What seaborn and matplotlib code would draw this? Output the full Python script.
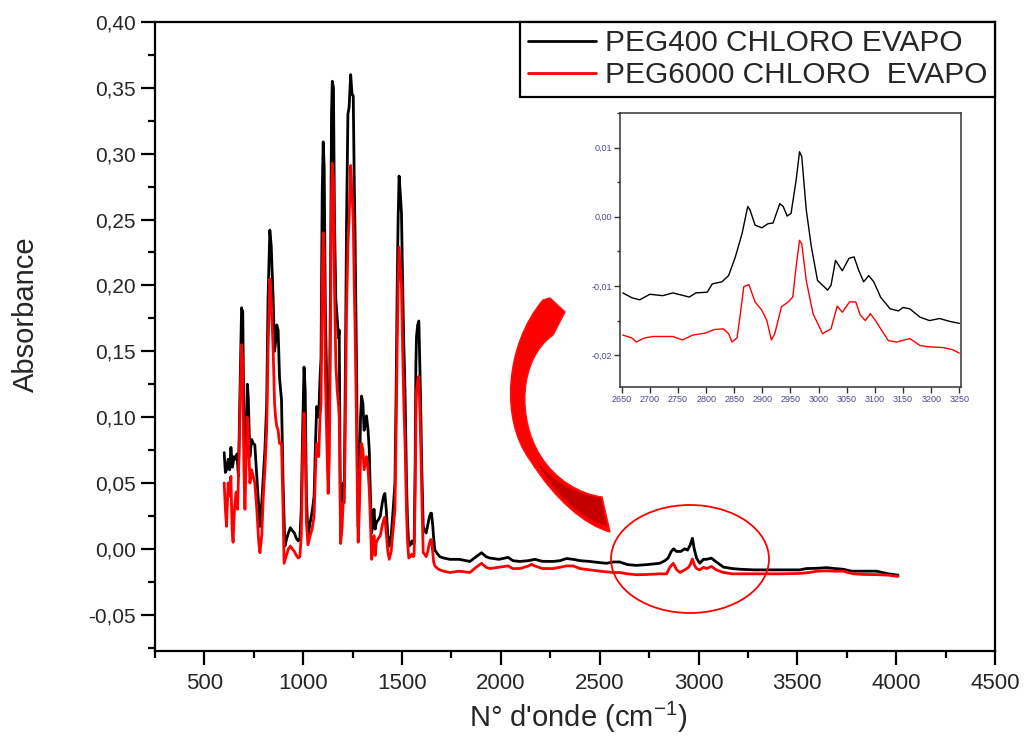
import pandas as pd
import matplotlib
matplotlib.use('Agg')
import matplotlib.pyplot as plt
import seaborn as sns
from matplotlib.ticker import MultipleLocator, FuncFormatter
from matplotlib.path import Path
from matplotlib.patches import PathPatch, Ellipse

# spectra (wavenumber in cm-1, absorbance)
wn_peg400 = [600, 606, 612, 620, 628, 634, 642, 650, 658, 665, 672, 680, 688, 694, 700, 705, 712, 717, 722, 730,
             739, 747, 755, 765, 775, 781, 790, 798, 806, 815, 822, 831, 838, 848, 855, 860, 866, 873, 880, 890,
             898, 907, 915, 925, 935, 944, 955, 965, 975, 983, 990, 997, 1004, 1010, 1016, 1024, 1035, 1045, 1055,
             1062, 1068, 1078, 1085, 1090, 1096, 1101, 1106, 1112, 1118, 1126, 1132, 1138, 1143, 1147, 1153, 1158,
             1165, 1172, 1178, 1182, 1186, 1189, 1196, 1202, 1208, 1214, 1219, 1226, 1232, 1240, 1247, 1253, 1258,
             1262, 1266, 1270, 1274, 1278, 1284, 1290, 1295, 1302, 1308, 1314, 1320, 1328, 1334, 1340, 1346, 1352,
             1358, 1364, 1370, 1380, 1390, 1400, 1407, 1413, 1420, 1428, 1435, 1445, 1455, 1464, 1470, 1475, 1480,
             1485, 1491, 1497, 1503, 1509, 1515, 1523, 1528, 1534, 1542, 1550, 1556, 1561, 1566, 1570, 1573, 1579,
             1585, 1593, 1600, 1607, 1614, 1622, 1630, 1638, 1645, 1649, 1655, 1660, 1666, 1680, 1691, 1710, 1742,
             1790, 1843, 1875, 1902, 1925, 1944, 1990, 2037, 2060, 2096, 2140, 2172, 2210, 2264, 2300, 2332, 2366,
             2400, 2450, 2500, 2534, 2570, 2601, 2640, 2686, 2740, 2804, 2830, 2846, 2862, 2874, 2888, 2910, 2930,
             2945, 2958, 2969, 2978, 2990, 3006, 3025, 3040, 3065, 3090, 3126, 3170, 3208, 3280, 3343, 3420, 3512,
             3546, 3600, 3647, 3690, 3731, 3774, 3840, 3900, 3960, 4009]
abs_peg400 = [0.073, 0.058, 0.060, 0.068, 0.060, 0.077, 0.062, 0.070, 0.068, 0.072, 0.055, 0.120, 0.183, 0.180,
              0.090, 0.050, 0.090, 0.125, 0.115, 0.070, 0.083, 0.080, 0.079, 0.055, 0.030, 0.017, 0.035, 0.055,
              0.075, 0.110, 0.190, 0.242, 0.230, 0.189, 0.150, 0.157, 0.170, 0.166, 0.130, 0.113, 0.050, 0.002,
              0.007, 0.012, 0.016, 0.014, 0.012, 0.008, 0.006, 0.008, 0.030, 0.090, 0.138, 0.120, 0.040, 0.009,
              0.020, 0.028, 0.040, 0.080, 0.108, 0.100, 0.130, 0.145, 0.270, 0.309, 0.290, 0.180, 0.130, 0.068,
              0.100, 0.200, 0.330, 0.355, 0.350, 0.250, 0.189, 0.175, 0.160, 0.166, 0.080, 0.007, 0.030, 0.050,
              0.048, 0.150, 0.245, 0.330, 0.335, 0.360, 0.345, 0.344, 0.280, 0.240, 0.190, 0.134, 0.060, 0.017,
              0.050, 0.100, 0.116, 0.110, 0.090, 0.095, 0.101, 0.090, 0.075, 0.040, 0.012, 0.018, 0.030, 0.015,
              0.020, 0.022, 0.025, 0.035, 0.040, 0.042, 0.030, 0.010, 0.002, 0.010, 0.030, 0.050, 0.120, 0.194,
              0.250, 0.283, 0.270, 0.255, 0.200, 0.154, 0.120, 0.047, 0.020, 0.002, 0.003, 0.006, 0.004, 0.004,
              0.060, 0.140, 0.161, 0.170, 0.173, 0.118, 0.060, 0.017, 0.014, 0.012, 0.018, 0.024, 0.027, 0.027,
              0.018, 0.008, -0.001, -0.004, -0.006, -0.007, -0.008, -0.008, -0.0096, -0.006, -0.003, -0.006,
              -0.007, -0.008, -0.0065, -0.009, -0.0096, -0.009, -0.008, -0.0095, -0.0096, -0.009, -0.0074, -0.008,
              -0.009, -0.0096, -0.0105, -0.011, -0.010, -0.010, -0.012, -0.0126, -0.012, -0.011, -0.009, -0.007,
              -0.002, 0.000, -0.002, -0.002, 0.000, -0.001, 0.003, 0.008, 0.000, -0.007, -0.011, -0.008, -0.008,
              -0.0071, -0.010, -0.0139, -0.015, -0.0155, -0.016, -0.016, -0.016, -0.016, -0.015, -0.0148, -0.0143,
              -0.015, -0.0155, -0.017, -0.017, -0.017, -0.019, -0.020]

wn_peg6000 = [600, 606, 612, 620, 628, 634, 640, 645, 652, 660, 668, 675, 682, 688, 694, 700, 705, 712, 717, 722,
              730, 739, 747, 755, 765, 775, 781, 790, 798, 806, 815, 822, 831, 838, 848, 855, 860, 866, 873, 880,
              890, 898, 903, 915, 925, 935, 944, 955, 965, 975, 983, 990, 997, 1004, 1010, 1016, 1024, 1035, 1045,
              1055, 1062, 1068, 1078, 1085, 1090, 1096, 1101, 1106, 1112, 1118, 1126, 1132, 1138, 1143, 1147, 1153,
              1158, 1165, 1172, 1178, 1182, 1186, 1189, 1196, 1202, 1208, 1214, 1219, 1226, 1232, 1240, 1247, 1253,
              1258, 1262, 1266, 1270, 1274, 1278, 1284, 1290, 1295, 1302, 1308, 1314, 1320, 1328, 1334, 1340, 1346,
              1352, 1358, 1364, 1370, 1380, 1390, 1400, 1407, 1413, 1420, 1428, 1435, 1445, 1455, 1464, 1470, 1475,
              1480, 1485, 1491, 1497, 1503, 1509, 1515, 1523, 1528, 1534, 1542, 1550, 1556, 1561, 1566, 1570, 1573,
              1579, 1585, 1593, 1600, 1607, 1614, 1622, 1630, 1638, 1645, 1649, 1655, 1660, 1666, 1680, 1691, 1710,
              1742, 1790, 1843, 1875, 1902, 1925, 1944, 1990, 2037, 2060, 2096, 2140, 2155, 2172, 2210, 2264, 2300,
              2332, 2366, 2400, 2450, 2500, 2534, 2570, 2601, 2640, 2686, 2740, 2804, 2838, 2855, 2872, 2890, 2906,
              2930, 2950, 2958, 2969, 2978, 2990, 3006, 3025, 3040, 3065, 3090, 3126, 3170, 3208, 3280, 3343, 3420,
              3512, 3560, 3600, 3647, 3690, 3731, 3783, 3840, 3900, 3960, 4009]
abs_peg6000 = [0.050, 0.030, 0.017, 0.050, 0.040, 0.055, 0.015, 0.005, 0.030, 0.043, 0.030, 0.070, 0.120, 0.155,
               0.140, 0.060, 0.030, 0.070, 0.100, 0.090, 0.050, 0.060, 0.055, 0.050, 0.030, 0.005, -0.003, 0.010,
               0.040, 0.060, 0.090, 0.150, 0.205, 0.190, 0.150, 0.110, 0.100, 0.093, 0.090, 0.080, 0.080, 0.030,
               -0.011, -0.005, 0.000, 0.002, 0.000, -0.002, -0.005, -0.007, -0.006, 0.010, 0.070, 0.103, 0.080,
               0.020, 0.003, 0.010, 0.015, 0.025, 0.060, 0.080, 0.070, 0.100, 0.110, 0.200, 0.240, 0.225, 0.130,
               0.090, 0.042, 0.070, 0.170, 0.270, 0.293, 0.280, 0.200, 0.140, 0.120, 0.110, 0.100, 0.050, 0.004,
               0.015, 0.035, 0.035, 0.110, 0.180, 0.230, 0.250, 0.291, 0.270, 0.250, 0.200, 0.170, 0.130, 0.090,
               0.040, 0.005, 0.030, 0.070, 0.080, 0.075, 0.060, 0.065, 0.070, 0.060, 0.045, 0.020, -0.008, 0.000,
               0.010, -0.005, 0.005, 0.008, 0.010, 0.018, 0.022, 0.024, 0.012, -0.002, -0.008, -0.002, 0.015, 0.030,
               0.090, 0.150, 0.200, 0.229, 0.215, 0.200, 0.150, 0.110, 0.080, 0.025, 0.005, -0.007, -0.006, -0.004,
               -0.006, -0.005, 0.040, 0.100, 0.120, 0.128, 0.131, 0.090, 0.040, -0.003, -0.004, -0.006, -0.002,
               0.004, 0.007, 0.007, -0.002, -0.010, -0.013, -0.015, -0.016, -0.017, -0.018, -0.017, -0.018, -0.014,
               -0.011, -0.014, -0.015, -0.014, -0.013, -0.015, -0.015, -0.013, -0.0118, -0.013, -0.015, -0.015,
               -0.014, -0.013, -0.013, -0.015, -0.016, -0.017, -0.0175, -0.018, -0.018, -0.019, -0.0197, -0.0195,
               -0.019, -0.019, -0.014, -0.011, -0.016, -0.018, -0.016, -0.014, -0.012, -0.0077, -0.012, -0.015,
               -0.016, -0.014, -0.015, -0.0134, -0.016, -0.018, -0.019, -0.019, -0.019, -0.019, -0.019, -0.0187,
               -0.018, -0.017, -0.0167, -0.017, -0.017, -0.019, -0.0195, -0.0196, -0.020, -0.021]

# zoomed spectra of the C-H stretching region (inset)
wn_zoom_400 = [2652, 2668, 2682, 2700, 2723, 2741, 2770, 2782, 2802, 2811, 2828, 2840, 2852, 2864, 2874, 2878,
               2887, 2899, 2910, 2919, 2931, 2937, 2944, 2951, 2960, 2966, 2970, 2978, 2987, 2998, 3016, 3022,
               3030, 3042, 3054, 3063, 3071, 3080, 3089, 3098, 3110, 3127, 3142, 3150, 3162, 3180, 3197, 3215,
               3232, 3250]
abs_zoom_400 = [-0.0110, -0.0117, -0.0120, -0.0112, -0.0114, -0.0110, -0.0116, -0.0110, -0.0109, -0.0097,
                -0.0094, -0.0085, -0.0058, -0.0024, 0.0015, 0.0010, -0.0012, -0.0016, -0.0010, -0.0009, 0.0019,
                0.0015, 0.0001, 0.0005, 0.0053, 0.0094, 0.0087, 0.0010, -0.0043, -0.0092, -0.0106, -0.0099,
                -0.0063, -0.0078, -0.0060, -0.0058, -0.0077, -0.0094, -0.0085, -0.0094, -0.0116, -0.0133, -0.0136,
                -0.0131, -0.0133, -0.0145, -0.0150, -0.0147, -0.0151, -0.0154]
wn_zoom_6000 = [2652, 2668, 2676, 2691, 2706, 2741, 2758, 2776, 2799, 2814, 2831, 2840, 2846, 2855, 2861, 2867,
                2876, 2887, 2899, 2908, 2916, 2922, 2934, 2946, 2954, 2960, 2966, 2970, 2978, 2990, 3007, 3022,
                3033, 3042, 3055, 3066, 3074, 3083, 3092, 3101, 3112, 3124, 3139, 3162, 3180, 3197, 3221, 3238,
                3250]
abs_zoom_6000 = [-0.0171, -0.0175, -0.0181, -0.0175, -0.0173, -0.0173, -0.0178, -0.0171, -0.0168, -0.0163,
                 -0.0162, -0.0169, -0.0181, -0.0175, -0.0140, -0.0101, -0.0098, -0.0123, -0.0135, -0.0150, -0.0178,
                 -0.0169, -0.0130, -0.0123, -0.0116, -0.0072, -0.0034, -0.0039, -0.0092, -0.0140, -0.0169, -0.0162,
                 -0.0129, -0.0138, -0.0123, -0.0123, -0.0142, -0.0150, -0.0140, -0.0150, -0.0164, -0.0179, -0.0181,
                 -0.0176, -0.0186, -0.0188, -0.0189, -0.0192, -0.0197]

labels = ['PEG400 CHLORO EVAPO', 'PEG6000 CHLORO  EVAPO']

df = pd.concat([
    pd.DataFrame({'wn': wn_peg400, 'A': abs_peg400, 'sample': labels[0]}),
    pd.DataFrame({'wn': wn_peg6000, 'A': abs_peg6000, 'sample': labels[1]}),
])
df_zoom = pd.concat([
    pd.DataFrame({'wn': wn_zoom_400, 'A': abs_zoom_400, 'sample': labels[0]}),
    pd.DataFrame({'wn': wn_zoom_6000, 'A': abs_zoom_6000, 'sample': labels[1]}),
])
colors = {labels[0]: 'black', labels[1]: 'red'}

sns.set_style('ticks')
plt.rcParams['font.family'] = ['Liberation Sans', 'DejaVu Sans']
plt.rcParams['mathtext.fontset'] = 'custom'
plt.rcParams['mathtext.rm'] = 'Liberation Sans'

comma = FuncFormatter(lambda v, p: ('%.2f' % v).replace('.', ','))

fig = plt.figure(figsize=(10.28, 7.49), dpi=100)
ax = fig.add_axes([155/1028, 1-651/749, 840/1028, 629/749])
sns.lineplot(data=df, x='wn', y='A', hue='sample', palette=colors, estimator=None, sort=False,
             linewidth=2, ax=ax)
ax.set_xlim(250, 4500)
ax.set_ylim(-0.0776, 0.40)
ax.xaxis.set_major_locator(MultipleLocator(500))
ax.xaxis.set_minor_locator(MultipleLocator(250))
ax.yaxis.set_major_locator(MultipleLocator(0.05))
ax.yaxis.set_minor_locator(MultipleLocator(0.025))
ax.yaxis.set_major_formatter(comma)
ax.tick_params(which='major', direction='out', length=10, width=1.6, color='black')
ax.tick_params(which='minor', direction='out', length=5, width=1.6, color='black')
ax.tick_params(axis='y', labelsize=15, pad=4)
ax.tick_params(axis='x', labelsize=16, pad=6)
for s in ax.spines.values():
    s.set_visible(True)
    s.set_linewidth(1.6)
    s.set_color('black')
ax.set_xlabel("N° d'onde (cm$\\mathregular{^{-1}}$)", fontsize=21)
ax.set_ylabel('Absorbance', fontsize=21)
ax.xaxis.set_label_coords(0.504, -0.078)
ax.yaxis.set_label_coords(-0.137, 0.535)

leg = ax.legend(loc='upper right', borderaxespad=0, fontsize=21.5, handlelength=2.3, handletextpad=0.3,
                labelspacing=0.12, borderpad=0.25, fancybox=False, framealpha=1)
leg.get_frame().set_edgecolor('black')
leg.get_frame().set_linewidth(1.6)
for line in leg.get_lines():
    line.set_linewidth(2)

# inset with the C-H region
axin = fig.add_axes([620/1028, 1-387/749, 341/1028, 274/749])
sns.lineplot(data=df_zoom, x='wn', y='A', hue='sample', palette=colors, estimator=None, sort=False,
             linewidth=1, legend=False, ax=axin)
axin.set_xlim(2647, 3253)
axin.set_ylim(-0.0246, 0.015)
axin.xaxis.set_major_locator(MultipleLocator(50))
axin.yaxis.set_major_locator(MultipleLocator(0.01))
axin.yaxis.set_minor_locator(MultipleLocator(0.005))
axin.yaxis.set_major_formatter(comma)
axin.tick_params(which='major', direction='out', length=4, width=1, color='#333333',
                 labelsize=6.5, labelcolor='#4a4a8c', pad=2)
axin.tick_params(which='minor', direction='out', length=2.5, width=1, color='#333333')
for s in axin.spines.values():
    s.set_visible(True)
    s.set_linewidth(1.1)
    s.set_color('#333333')
axin.set_xlabel('')
axin.set_ylabel('')

# overlay in pixel coordinates for the curved arrow and the ellipse
ov = fig.add_axes([0, 0, 1, 1])
ov.set_xlim(0, 1028)
ov.set_ylim(749, 0)
ov.axis('off')
ov.patch.set_alpha(0)

arrow = Path(
    [(543, 300), (505, 345), (500, 420), (530, 460), (555, 500), (585, 525), (610, 532),
     (602, 497), (580, 494), (555, 480), (540, 455), (518, 420), (518, 360), (553, 335),
     (565, 312), (550, 298), (543, 300)],
    [Path.MOVETO, Path.CURVE4, Path.CURVE4, Path.CURVE4, Path.CURVE4, Path.CURVE4, Path.CURVE4,
     Path.LINETO, Path.CURVE4, Path.CURVE4, Path.CURVE4, Path.CURVE4, Path.CURVE4, Path.CURVE4,
     Path.LINETO, Path.LINETO, Path.CLOSEPOLY])
ov.add_patch(PathPatch(arrow, facecolor='#ff0000', edgecolor='#ff1010', lw=1))
shade = Path(
    [(534, 455), (548, 480), (572, 494), (601, 498), (607, 526), (580, 518), (552, 492), (534, 455)],
    [Path.MOVETO, Path.CURVE4, Path.CURVE4, Path.CURVE4, Path.LINETO, Path.CURVE4, Path.CURVE4, Path.CURVE4])
ov.add_patch(PathPatch(shade, facecolor='#c40000', edgecolor='none'))
ov.add_patch(Ellipse((690, 559), 158, 108, fill=False, edgecolor='red', lw=1.3))

plt.savefig('out.png', dpi=100)
